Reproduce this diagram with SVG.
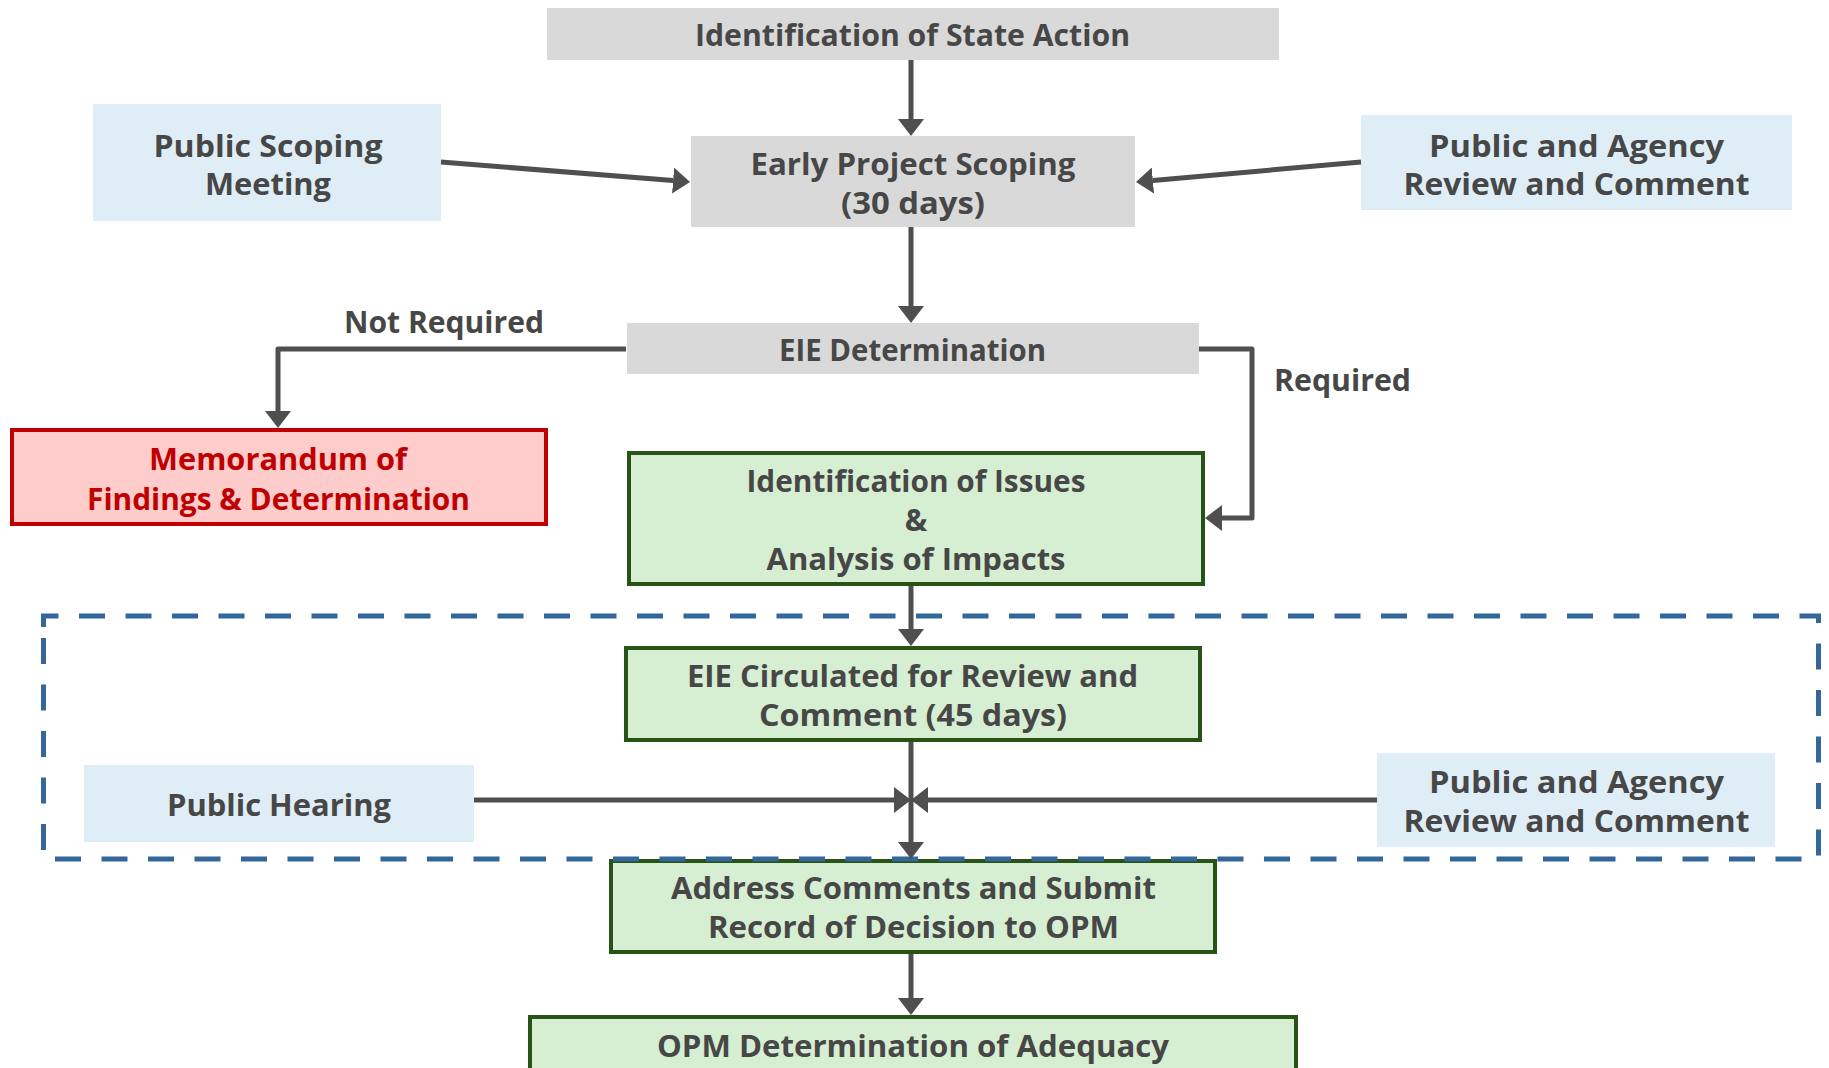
<svg xmlns="http://www.w3.org/2000/svg" width="1829" height="1068" viewBox="0 0 1829 1068">
<style>
text{font-family:"Open Sans","Liberation Sans",sans-serif;font-weight:700;font-size:30px;fill:#474747;text-anchor:middle}
text.red{fill:#C00000}
.gray{fill:#D9D9D9}
.blue{fill:#DFEEF6}
.green{fill:#D6EED1;stroke:#275317;stroke-width:4}
.redbox{fill:#FFCCCC;stroke:#C00000;stroke-width:4}
.conn{fill:none;stroke:#4F4F4F;stroke-width:5;stroke-linejoin:round;marker-end:url(#ah)}
.dash{fill:none;stroke:#336699;stroke-width:5;stroke-dasharray:26 20.5}
</style>
<defs>
<marker id="ah" markerUnits="userSpaceOnUse" viewBox="0 0 17 26" markerWidth="17" markerHeight="26" refX="0" refY="13" orient="auto">
<path d="M0,0 L17,13 L0,26 Z" fill="#4F4F4F"/>
</marker>
</defs>
<rect width="1829" height="1068" fill="#FFFFFF"/>

<g id="node-state-action">
<rect class="gray" x="547" y="8" width="732" height="52"/>
<text x="912.5" y="46" textLength="435" lengthAdjust="spacingAndGlyphs">Identification of State Action</text>
</g>
<g id="node-early-scoping">
<rect class="gray" x="691" y="136" width="444" height="91"/>
<text x="913" y="175" textLength="325" lengthAdjust="spacingAndGlyphs">Early Project Scoping</text>
<text x="913" y="214" textLength="144" lengthAdjust="spacingAndGlyphs">(30 days)</text>
</g>
<g id="node-public-scoping">
<rect class="blue" x="93" y="104" width="348" height="117"/>
<text x="268" y="157" textLength="229" lengthAdjust="spacingAndGlyphs">Public Scoping</text>
<text x="268" y="195" textLength="126" lengthAdjust="spacingAndGlyphs">Meeting</text>
</g>
<g id="node-agency-review-1">
<rect class="blue" x="1361" y="115" width="431" height="95"/>
<text x="1576.5" y="157" textLength="295" lengthAdjust="spacingAndGlyphs">Public and Agency</text>
<text x="1576.5" y="195" textLength="346" lengthAdjust="spacingAndGlyphs">Review and Comment</text>
</g>
<g id="node-eie-determination">
<rect class="gray" x="627" y="323" width="572" height="51"/>
<text x="912.5" y="361" textLength="267" lengthAdjust="spacingAndGlyphs">EIE Determination</text>
</g>
<g id="node-memorandum">
<rect class="redbox" x="12" y="430" width="534" height="94"/>
<text class="red" x="278" y="470" textLength="258" lengthAdjust="spacingAndGlyphs">Memorandum of</text>
<text class="red" x="278.5" y="510" textLength="383" lengthAdjust="spacingAndGlyphs">Findings &amp; Determination</text>
</g>
<g id="node-issues">
<rect class="green" x="629" y="453" width="574" height="131"/>
<text x="916" y="492" textLength="339" lengthAdjust="spacingAndGlyphs">Identification of Issues</text>
<text x="916" y="531">&amp;</text>
<text x="916" y="570" textLength="299" lengthAdjust="spacingAndGlyphs">Analysis of Impacts</text>
</g>
<g id="node-eie-circulated">
<rect class="green" x="626" y="648" width="574" height="92"/>
<text x="912.5" y="687" textLength="451" lengthAdjust="spacingAndGlyphs">EIE Circulated for Review and</text>
<text x="913" y="726" textLength="308" lengthAdjust="spacingAndGlyphs">Comment (45 days)</text>
</g>
<g id="node-public-hearing">
<rect class="blue" x="84" y="765" width="390" height="77"/>
<text x="279" y="816" textLength="224" lengthAdjust="spacingAndGlyphs">Public Hearing</text>
</g>
<g id="node-agency-review-2">
<rect class="blue" x="1377" y="753" width="398" height="94"/>
<text x="1576.5" y="793" textLength="295" lengthAdjust="spacingAndGlyphs">Public and Agency</text>
<text x="1576.5" y="832" textLength="346" lengthAdjust="spacingAndGlyphs">Review and Comment</text>
</g>
<g id="node-address">
<rect class="green" x="611" y="861" width="604" height="91"/>
<text x="913.5" y="899" textLength="485" lengthAdjust="spacingAndGlyphs">Address Comments and Submit</text>
<text x="913.5" y="938" textLength="411" lengthAdjust="spacingAndGlyphs">Record of Decision to OPM</text>
</g>
<g id="node-opm">
<rect class="green" x="530" y="1017" width="766" height="80"/>
<text x="913" y="1057" textLength="512" lengthAdjust="spacingAndGlyphs">OPM Determination of Adequacy</text>
</g>

<path id="review-boundary" class="dash" d="M43.5,627 V616 H1818.5 V859 H43.5 Z"/>

<g id="connectors">
<path class="conn" d="M911,60 V119"/>
<path class="conn" d="M441,162 L673.1,180.6"/>
<path class="conn" d="M1361,162 L1152.9,180.5"/>
<path class="conn" d="M911,227 V306"/>
<path class="conn" d="M626,349 H278 V411"/>
<path class="conn" d="M1199,349 H1252 V518 H1222"/>
<path class="conn" d="M911,586 V629"/>
<path class="conn" d="M474,800 H894"/>
<path class="conn" d="M1377,800 H928"/>
<path class="conn" d="M911,742 V842"/>
<path class="conn" d="M911,954 V998"/>
</g>
<g id="connector-labels">
<text x="444" y="333" textLength="200" lengthAdjust="spacingAndGlyphs">Not Required</text>
<text x="1342.5" y="391" textLength="137" lengthAdjust="spacingAndGlyphs">Required</text>
</g>
</svg>
